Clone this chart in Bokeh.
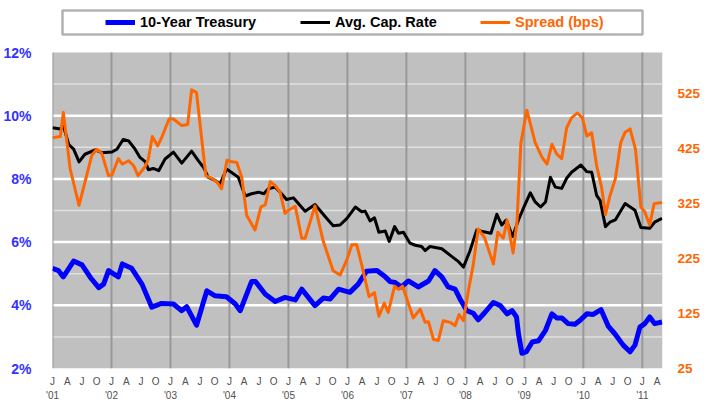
from bokeh.plotting import figure
from bokeh.models import (Range1d, LinearAxis, FixedTicker, Legend, LegendItem,
                          BoxAnnotation)
from bokeh.embed import file_html
from bokeh.resources import INLINE

# ---- data (x = months since Jan 2001) ----
treasury_month = [0, 1.2, 2.2, 4.3, 6.0, 7.7, 9.4, 10.4, 11.4, 13.4, 14.2, 16.1, 18.2, 20.2, 22.2,
                  24.6, 26.3, 27.3, 29.3, 31.4, 33.1, 35.4, 37.2, 38.2, 40.5, 41.3, 43.3, 45.3, 47.3,
                  49.4, 50.7, 53.4, 55.1, 56.5, 58.2, 60.5, 62.2, 63.9, 66.0, 67.7, 68.7, 69.7, 71.0,
                  72.4, 74.4, 76.5, 77.8, 79.2, 80.5, 81.9, 82.9, 84.3, 85.6, 86.6, 88.0, 89.7, 91.1,
                  92.5, 93.5, 94.4, 94.8, 95.5, 96.4, 97.6, 98.9, 100.3, 101.6, 102.6, 103.6, 104.9,
                  106.3, 107.3, 108.7, 110.0, 111.6, 113.1, 114.4, 116.1, 117.5, 118.5, 119.5, 120.5,
                  121.5, 122.5, 124.0]
treasury_pct = [5.17, 5.10, 4.90, 5.40, 5.28, 4.88, 4.56, 4.67, 5.10, 4.90, 5.31, 5.17, 4.67, 3.94, 4.06,
                4.04, 3.83, 3.96, 3.37, 4.46, 4.30, 4.27, 4.04, 3.83, 4.75, 4.75, 4.35, 4.12, 4.25,
                4.17, 4.51, 3.99, 4.23, 4.20, 4.51, 4.41, 4.67, 5.08, 5.10, 4.90, 4.75, 4.72, 4.58,
                4.77, 4.58, 4.77, 5.10, 4.90, 4.58, 4.51, 4.20, 3.83, 3.75, 3.54, 3.78, 4.09, 3.99,
                3.73, 3.83, 3.63, 3.10, 2.48, 2.53, 2.84, 2.88, 3.21, 3.73, 3.60, 3.60, 3.42,
                3.40, 3.52, 3.73, 3.71, 3.86, 3.33, 3.10, 2.74, 2.53, 2.74, 3.31, 3.42,
                3.63, 3.42, 3.47]

caprate_month = [0, 1.6, 2.2, 3.3, 4.3, 5.4, 6.6, 8.7, 10.0, 12.1, 13.1, 14.4, 15.5, 16.8, 17.8, 18.9,
                 19.5, 20.5, 21.6, 22.9, 24.6, 26.3, 28.3, 29.7, 30.7, 31.7, 33.1, 34.1, 35.4, 36.8,
                 37.8, 39.2, 40.5, 41.9, 43.0, 43.9, 45.3, 46.6, 47.6, 49.0, 51.4, 53.4, 55.5, 57.1,
                 58.5, 59.9, 61.6, 62.9, 63.6, 64.6, 65.5, 66.4, 67.7, 68.5, 69.6, 70.4, 71.4, 72.7,
                 73.8, 75.1, 75.8, 76.8, 79.2, 81.2, 82.6, 83.6, 84.9, 86.3, 87.7, 89.2, 90.4, 91.4,
                 92.3, 93.6, 94.8, 95.9, 97.2, 98.2, 99.3, 100.3, 101.3, 102.3, 103.6, 104.6, 105.6,
                 107.5, 108.7, 109.7, 110.7, 111.4, 112.5, 113.4, 114.5, 116.5, 118.5, 119.7, 121.5,
                 122.5, 124.0]
caprate_pct = [9.62, 9.58, 9.69, 9.09, 8.94, 8.54, 8.78, 8.92, 8.83, 8.85, 8.94, 9.25, 9.20, 8.94, 8.68, 8.54,
               8.29, 8.33, 8.26, 8.63, 8.85, 8.50, 8.88, 8.57, 8.37, 8.05, 7.95, 7.84, 8.31, 8.16,
               8.05, 7.46, 7.53, 7.58, 7.53, 7.69, 7.74, 7.53, 7.35, 7.40, 6.98, 7.19, 6.80, 6.52,
               6.54, 6.75, 7.11, 6.96, 6.98, 6.67, 6.77, 6.31, 6.35, 6.02, 6.49, 6.28, 6.31, 5.97,
               5.90, 5.86, 5.73, 5.86, 5.79, 5.55, 5.38, 5.21, 5.71, 6.38, 6.33, 6.28, 6.88, 6.54,
               6.70, 6.18, 6.70, 7.11, 7.56, 7.27, 7.11, 7.27, 8.05, 7.74, 7.70, 8.02, 8.21,
               8.44, 8.23, 8.21, 7.48, 7.32, 6.49, 6.63, 6.70, 7.22, 7.01, 6.46, 6.44,
               6.63, 6.75]

spread_month = [0, 1.6, 2.2, 3.6, 5.4, 6.6, 8.0, 9.0, 10.0, 11.4, 12.1, 13.4, 14.2, 15.5, 16.5, 17.4,
                18.9, 19.5, 20.3, 21.4, 22.2, 23.7, 24.6, 26.3, 27.5, 28.3, 29.3, 30.4, 31.2, 32.4,
                33.4, 34.4, 35.5, 36.5, 37.5, 38.5, 39.5, 41.2, 42.4, 43.3, 44.3, 45.3, 46.3, 47.3,
                48.0, 49.4, 50.7, 51.4, 53.4, 55.1, 57.1, 58.5, 59.9, 60.9, 61.9, 62.9, 64.4, 65.5,
                66.4, 67.5, 68.3, 69.6, 70.4, 71.2, 73.4, 74.8, 75.8, 76.5, 77.5, 78.5, 79.5, 80.9,
                81.9, 82.7, 83.6, 84.6, 85.6, 86.6, 87.9, 89.7, 90.6, 91.7, 92.5, 93.7, 94.5, 95.3,
                96.5, 98.2, 99.6, 100.6, 101.6, 102.6, 103.6, 104.6, 105.6, 106.8, 107.8, 108.7,
                109.7, 110.7, 111.7, 112.5, 113.4, 114.5, 115.6, 116.5, 117.5, 118.6, 119.7, 120.5,
                121.5, 122.4, 124.0]
spread_bps = [445, 447, 491, 388, 322, 364, 413, 424, 417, 376, 377, 407, 397, 403, 394, 376,
              393, 406, 447, 430, 445, 479, 479, 467, 469, 532, 527, 439, 376, 371,
              365, 352, 404, 401, 400, 373, 304, 277, 319, 323, 365, 358, 346, 307,
              313, 320, 262, 262, 321, 256, 203, 195, 223, 250, 250, 214, 156, 163,
              120, 144, 127, 175, 169, 175, 117, 133, 109, 110, 78, 76, 112, 109,
              103, 123, 112, 166, 214, 279, 263, 215, 273, 262, 295, 235, 292, 436,
              495, 436, 409, 397, 433, 415, 407, 463, 481, 490, 481, 448,
              454, 394, 355, 305, 339, 370, 436, 455, 461, 424, 319, 310,
              286, 325, 327]

quarter_ticks = list(range(0, 124, 3))
quarter_letters = ["J", "A", "J", "O"]
year_ticks = list(range(0, 121, 12))
year_labels = ["'01", "'02", "'03", "'04", "'05", "'06", "'07", "'08", "'09", "'10", "'11"]
pct_ticks = [2, 4, 6, 8, 10, 12]
pct_grid_major = [4, 6, 8, 10]
pct_grid_minor = [3, 5, 7, 9, 11]
bps_ticks = [25, 125, 225, 325, 425, 525]

X_MIN, X_MAX = 0, 124.1
PCT_MIN, PCT_MAX = 2, 12
BPS_MIN, BPS_MAX = 25, 600

FONT = "Liberation Sans"

# layout: plot frame holds the legend strip on top and the grey chart area below
FRAME_W, FRAME_H = 610, 360
CHART_TOP_PX = 44                      # grey area begins this far below the frame top
px_per_pct = (FRAME_H - CHART_TOP_PX) / (PCT_MAX - PCT_MIN)
pct_top = PCT_MAX + CHART_TOP_PX / px_per_pct
bps_per_pct = (BPS_MAX - BPS_MIN) / (PCT_MAX - PCT_MIN)
bps_top = BPS_MIN + (pct_top - PCT_MIN) * bps_per_pct

p = figure(frame_width=FRAME_W, frame_height=FRAME_H,
           min_border_left=44, min_border_right=34, min_border_top=8, min_border_bottom=30,
           x_range=Range1d(X_MIN, X_MAX), y_range=Range1d(PCT_MIN, pct_top),
           output_backend="svg", toolbar_location=None,
           background_fill_color="white", border_fill_color="white",
           outline_line_color=None)
p.extra_y_ranges = {"spread": Range1d(BPS_MIN, bps_top)}
p.xgrid.visible = False
p.ygrid.visible = False

# grey chart area
p.add_layout(BoxAnnotation(left=X_MIN, right=X_MAX, bottom=PCT_MIN, top=PCT_MAX,
                           fill_color="#c0c0c0", fill_alpha=1.0, line_color=None, level="image"))

# grid lines limited to the grey area
p.segment(x0=X_MIN, x1=X_MAX, y0=pct_grid_minor, y1=pct_grid_minor,
          line_color="#e0e0e0", line_width=1.5)
p.segment(x0=X_MIN, x1=X_MAX, y0=pct_grid_major, y1=pct_grid_major,
          line_color="white", line_width=2.5)
p.segment(x0=year_ticks, x1=year_ticks, y0=PCT_MIN, y1=PCT_MAX,
          line_color="#999999", line_width=2)

# x axis: quarter letters with year underneath
xa = p.xaxis[0]
xa.ticker = FixedTicker(ticks=quarter_ticks)
overrides = {}
for t in quarter_ticks:
    lab = quarter_letters[(t // 3) % 4]
    if t in year_ticks:
        lab = lab + "\n" + year_labels[year_ticks.index(t)]
    overrides[t] = lab
xa.major_label_overrides = overrides
xa.axis_line_color = None
xa.major_tick_line_color = None
xa.minor_tick_line_color = None
xa.major_label_standoff = 1
xa.major_label_text_font = FONT
xa.major_label_text_font_size = "10px"
xa.major_label_text_line_height = 1.3
xa.major_label_text_color = "#505050"

# left axis
ya = p.yaxis[0]
ya.ticker = FixedTicker(ticks=pct_ticks)
ya.major_label_overrides = {t: f"{t}%" for t in pct_ticks}
ya.axis_line_color = None
ya.major_tick_line_color = None
ya.minor_tick_line_color = None
ya.major_label_standoff = 15
ya.major_label_text_font = FONT
ya.major_label_text_font_style = "bold"
ya.major_label_text_font_size = "14px"
ya.major_label_text_color = "#3333ff"

# right axis
ra = LinearAxis(y_range_name="spread", ticker=FixedTicker(ticks=bps_ticks),
                axis_line_color=None, major_tick_line_color=None, minor_tick_line_color=None,
                major_label_standoff=9, major_label_text_font=FONT,
                major_label_text_font_style="bold", major_label_text_font_size="13.5px",
                major_label_text_color="#ff6600")
p.add_layout(ra, "right")

# series
r_t = p.line(treasury_month, treasury_pct, line_color="#0000ff", line_width=5, line_join="round")
r_c = p.line(caprate_month, caprate_pct, line_color="black", line_width=3, line_join="round")
r_s = p.line(spread_month, spread_bps, line_color="#ff6600", line_width=3, line_join="round",
             y_range_name="spread")

# legend box and entries in the strip above the grey area
box = BoxAnnotation(left=10, right=590, bottom=FRAME_H - 26, top=FRAME_H - 2,
                    left_units="screen", right_units="screen",
                    bottom_units="screen", top_units="screen",
                    fill_color="white", fill_alpha=1.0, line_color="black", line_width=2.5)
p.add_layout(box)

common = dict(orientation="horizontal", padding=0, margin=0, spacing=40, label_standoff=5,
              glyph_width=30, glyph_height=20, label_height=20,
              border_line_color=None, background_fill_alpha=0,
              label_text_font=FONT, label_text_font_style="bold", label_text_font_size="14.5px")
leg_a = Legend(items=[LegendItem(label="10-Year Treasury", renderers=[r_t]),
                      LegendItem(label="Avg. Cap. Rate", renderers=[r_c])],
               location=(53, FRAME_H - 24), label_width=120, label_text_color="black", **common)
leg_b = Legend(items=[LegendItem(label="Spread (bps)", renderers=[r_s])],
               location=(428, FRAME_H - 24), label_width=60, label_text_color="#ff6600", **common)
p.add_layout(leg_a)
p.add_layout(leg_b)

open("out.html", "w").write(file_html(p, INLINE))
